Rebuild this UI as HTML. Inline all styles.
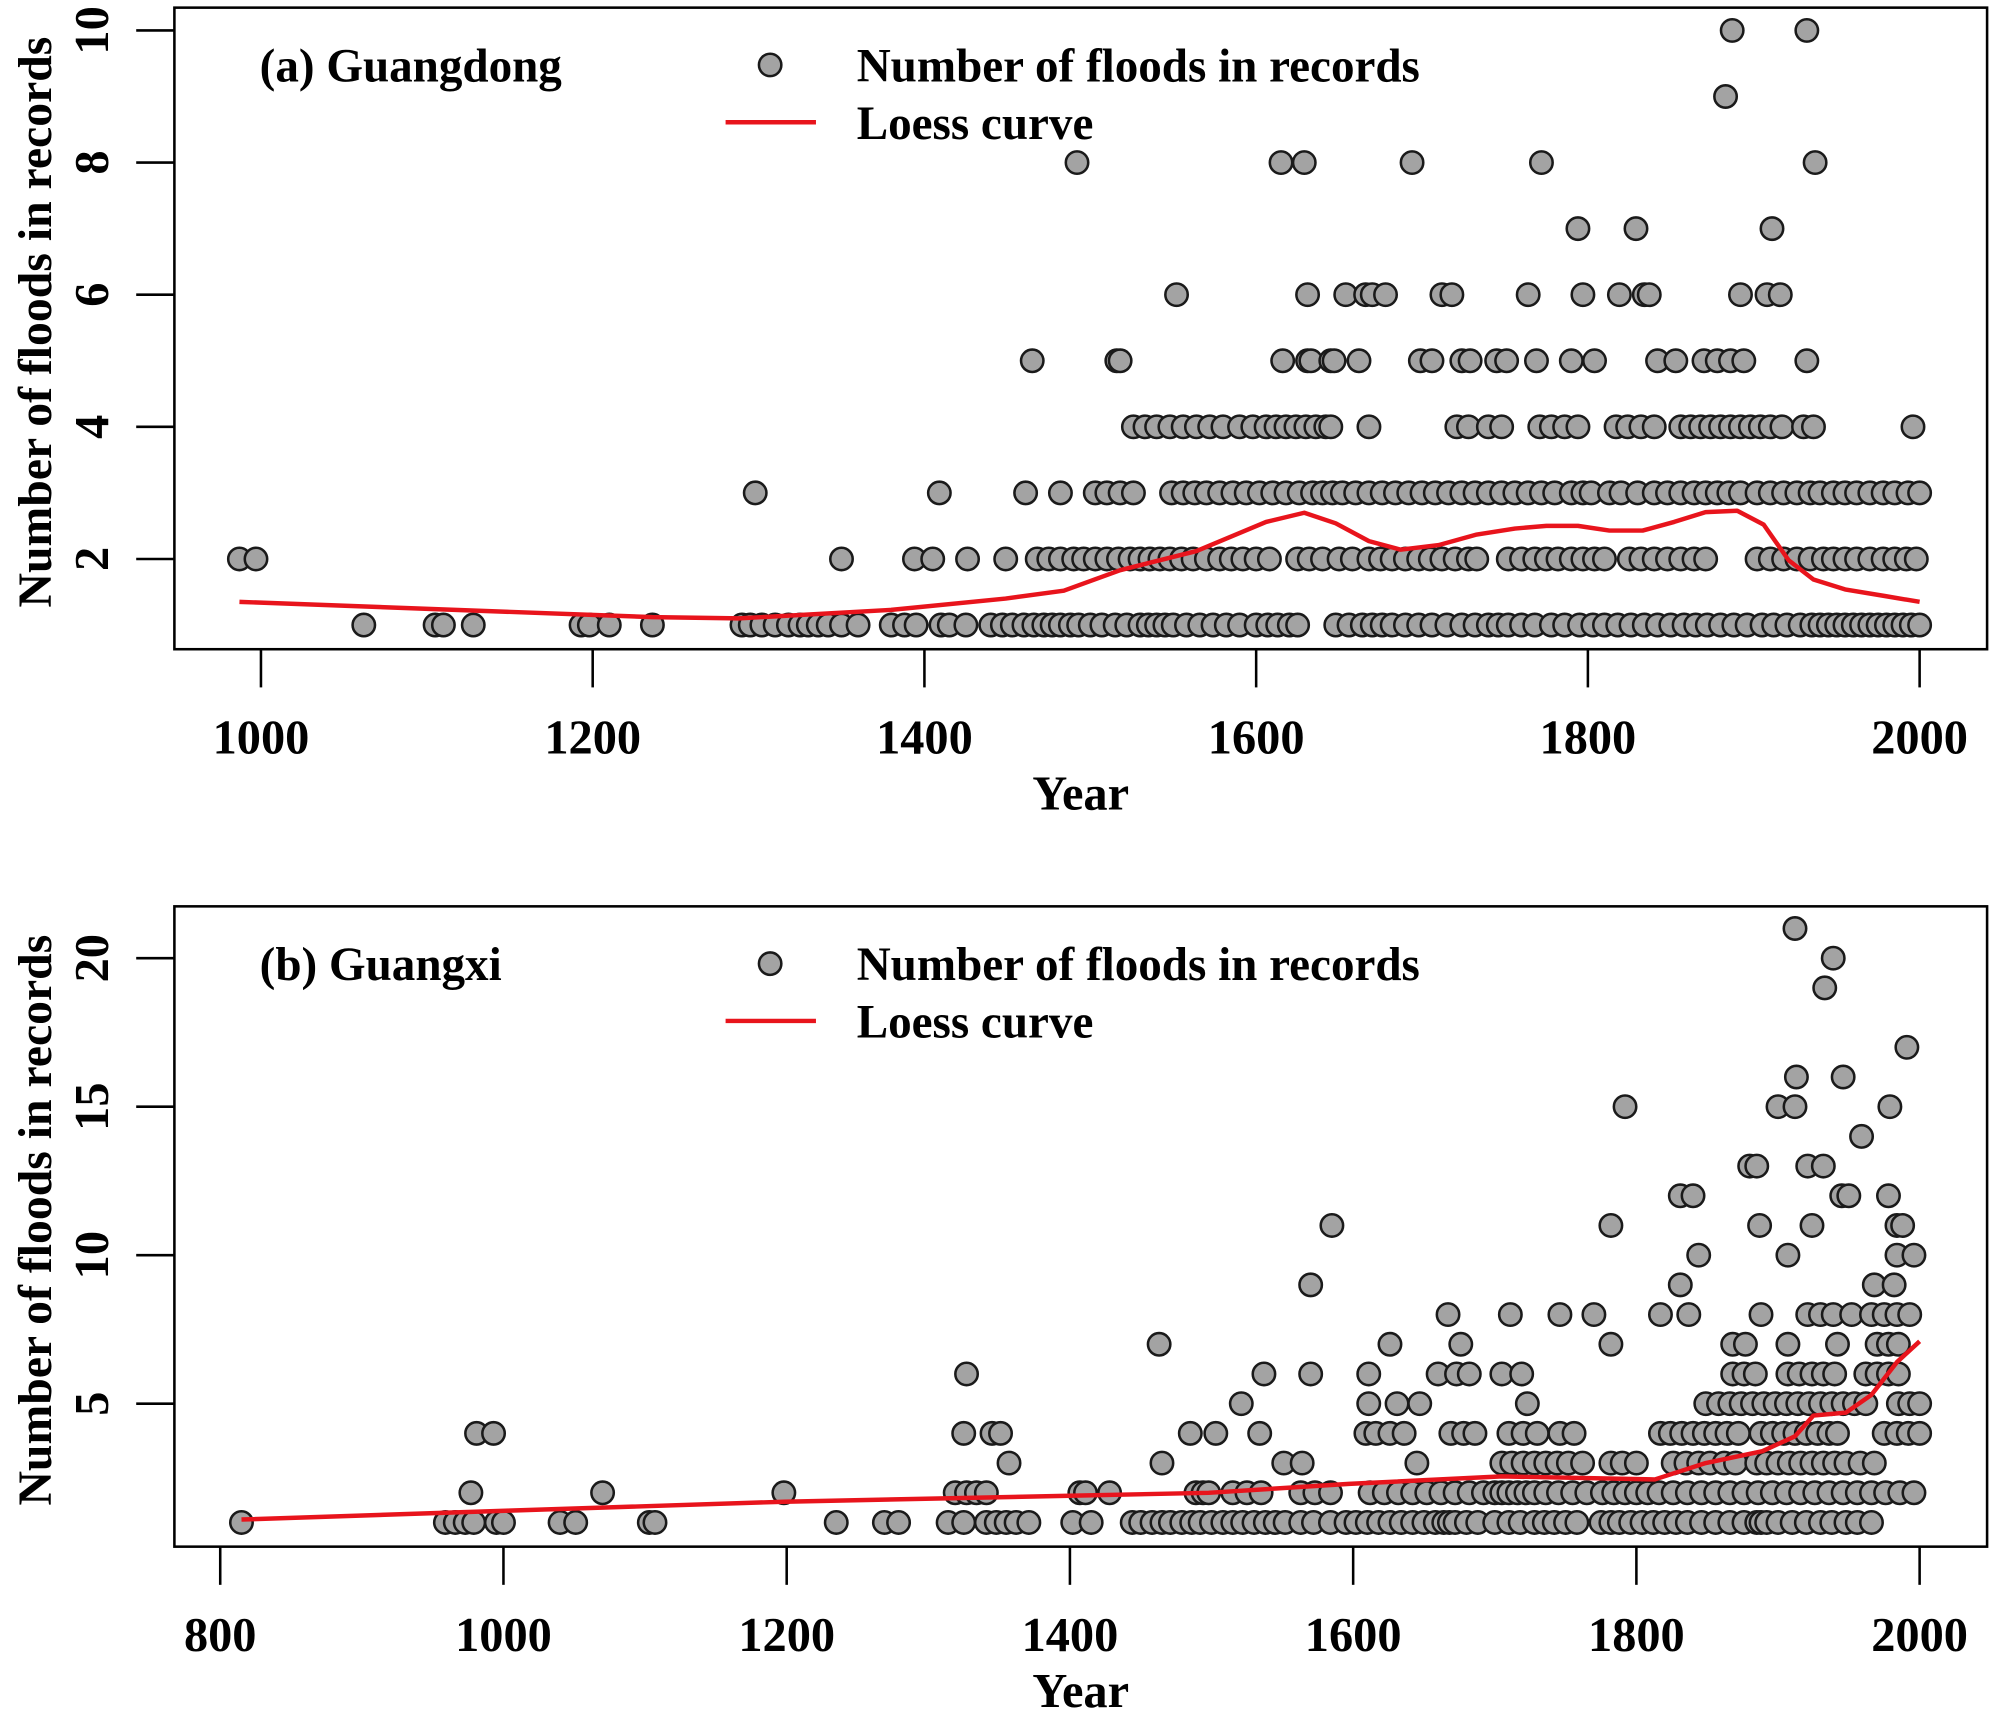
<!DOCTYPE html>
<html><head><meta charset="utf-8"><style>
html,body{margin:0;padding:0;background:#fff}
svg{display:block}
text{font-family:"Liberation Serif",serif;font-weight:bold;fill:#000}
</style></head>
<body>
<svg id="chart" width="1996" height="1718" viewBox="0 0 1568 1349.6" xmlns="http://www.w3.org/2000/svg"></svg>
<script>
// Panel (a) Guangdong: years grouped by flood count
const gd1=[1062,1105,1110,1128,1193,1198,1210,1236,1290,1295,1302,1310,1318,1325,1330,1336,1342,1350,1360,1380,1388,1395,1410,1415,1425,1440,1447,1453,1460,1466,1472,1477,1482,1488,1493,1500,1507,1515,1522,1530,1535,1540,1545,1550,1558,1566,1574,1582,1590,1600,1607,1613,1620,1625,1648,1656,1664,1670,1676,1682,1690,1698,1706,1715,1724,1732,1740,1746,1752,1760,1768,1778,1786,1795,1803,1810,1818,1826,1834,1842,1850,1858,1865,1872,1880,1888,1896,1905,1912,1920,1928,1935,1940,1945,1950,1955,1960,1965,1970,1975,1980,1985,1990,1995,2000];
const gd2=[987,997,1350,1394,1405,1426,1449,1468,1475,1482,1490,1496,1503,1510,1517,1524,1530,1536,1542,1548,1555,1562,1570,1578,1585,1592,1600,1608,1625,1632,1640,1650,1658,1668,1675,1682,1690,1698,1705,1712,1720,1728,1733,1752,1760,1768,1775,1782,1790,1797,1804,1810,1825,1832,1840,1848,1856,1864,1871,1902,1910,1918,1926,1934,1942,1948,1955,1962,1970,1978,1985,1992,1998];
const gd3=[1298,1409,1461,1482,1503,1510,1518,1526,1549,1556,1563,1570,1578,1586,1594,1602,1610,1618,1626,1634,1640,1646,1652,1660,1668,1676,1684,1692,1700,1708,1716,1724,1732,1740,1748,1756,1764,1772,1780,1790,1797,1802,1813,1820,1830,1840,1848,1856,1864,1871,1878,1885,1892,1902,1910,1918,1926,1934,1940,1948,1955,1962,1970,1978,1985,1993,2000];
const gd4=[1526,1533,1540,1548,1556,1564,1572,1580,1590,1598,1606,1612,1618,1624,1630,1636,1642,1645,1668,1721,1728,1740,1748,1771,1778,1786,1794,1817,1824,1832,1840,1856,1862,1868,1874,1880,1886,1892,1898,1904,1910,1917,1930,1936,1996];
const gd5=[1465,1516,1518,1616,1631,1633,1645,1647,1662,1699,1706,1724,1729,1745,1751,1769,1790,1804,1842,1853,1870,1878,1886,1894,1932];
const gd6=[1552,1631,1654,1666,1670,1678,1712,1718,1764,1797,1819,1834,1837,1892,1908,1916];
const gd7=[1794,1829,1911];
const gd8=[1492,1615,1629,1694,1772,1937];
const gd9=[1883];
const gd10=[1887,1932];
const gdLoessYear=[987,1236,1288,1380,1449,1484,1518,1564,1606,1629,1648,1668,1687,1710,1733,1756,1775,1794,1813,1833,1852,1871,1890,1906,1921,1936,1955,1979,2000];
const gdLoessVal=[1.35,1.12,1.1,1.23,1.4,1.52,1.83,2.12,2.56,2.7,2.54,2.27,2.14,2.21,2.37,2.46,2.5,2.5,2.43,2.43,2.56,2.71,2.73,2.52,1.98,1.69,1.54,1.44,1.35];
const gdXTicks=[1000,1200,1400,1600,1800,2000];
const gdYTicks=[2,4,6,8,10];

// Panel (b) Guangxi
const gx1=[815,959,966,973,979,995,1000,1040,1051,1103,1107,1235,1269,1279,1314,1325,1341,1348,1355,1362,1371,1402,1415,1444,1450,1458,1465,1471,1479,1486,1492,1500,1508,1515,1522,1530,1538,1545,1552,1563,1572,1584,1595,1602,1610,1618,1626,1634,1642,1650,1658,1664,1668,1672,1680,1688,1700,1710,1718,1728,1735,1742,1750,1758,1775,1782,1788,1796,1804,1812,1820,1828,1836,1846,1856,1866,1876,1885,1888,1892,1900,1910,1920,1930,1938,1948,1956,1966];
const gx2=[977,1070,1198,1319,1327,1334,1341,1407,1411,1428,1489,1494,1498,1515,1525,1535,1563,1573,1584,1612,1622,1632,1642,1652,1662,1672,1682,1692,1700,1705,1710,1716,1722,1728,1736,1745,1755,1765,1776,1784,1792,1800,1808,1816,1826,1836,1846,1856,1866,1876,1886,1896,1906,1916,1926,1936,1946,1956,1966,1976,1986,1996];
const gx3=[1357,1465,1551,1564,1645,1705,1712,1720,1728,1736,1744,1752,1762,1782,1790,1800,1826,1835,1844,1852,1862,1870,1885,1892,1900,1908,1916,1924,1932,1940,1948,1958,1968];
const gx4=[981,993,1325,1345,1351,1485,1503,1534,1609,1616,1626,1636,1669,1678,1686,1710,1720,1730,1746,1756,1817,1824,1832,1840,1848,1856,1864,1872,1888,1896,1904,1912,1920,1928,1936,1942,1975,1984,1992,2000];
const gx5=[1521,1611,1631,1647,1723,1849,1858,1866,1874,1882,1890,1898,1906,1914,1922,1930,1938,1946,1954,1962,1985,1993,2000];
const gx6=[1327,1537,1570,1611,1660,1673,1682,1705,1719,1868,1876,1884,1907,1915,1924,1932,1940,1962,1970,1978,1985];
const gx7=[1463,1626,1676,1782,1868,1877,1907,1942,1970,1978,1985];
const gx8=[1667,1711,1746,1770,1817,1837,1888,1921,1930,1939,1952,1966,1975,1984,1993];
const gx9=[1570,1831,1968,1982];
const gx10=[1844,1907,1984,1996];
const gx11=[1585,1782,1887,1924,1984,1988];
const gx12=[1831,1840,1945,1950,1978];
const gx13=[1880,1885,1921,1932];
const gx14=[1959];
const gx15=[1792,1900,1912,1979];
const gx16=[1913,1946];
const gx17=[1991];
const gx19=[1933];
const gx20=[1939];
const gx21=[1912];
const gxLoessYear=[815,1004,1198,1400,1498,1597,1705,1813,1849,1889,1912,1925,1948,1966,1984,2000];
const gxLoessVal=[1.1,1.4,1.7,1.9,2.0,2.3,2.55,2.45,3.0,3.4,3.9,4.6,4.7,5.3,6.4,7.1];
const gxXTicks=[800,1000,1200,1400,1600,1800,2000];
const gxYTicks=[5,10,15,20];

const NS="http://www.w3.org/2000/svg";
const svg=document.getElementById('chart');
function mk(tag,attrs,parent){const e=document.createElementNS(NS,tag);for(const k in attrs)e.setAttribute(k,attrs[k]);(parent||svg).appendChild(e);return e;}

function panel(cfg){
  const g=mk('g',{});
  
  
  const X=v=>cfg.x0+(v-cfg.xv0)*cfg.xs;
  const Y=v=>cfg.y0-(v-cfg.yv0)*cfg.ys;
  const box=mk('rect',{x:137,y:cfg.top,width:1424,height:cfg.bot-cfg.top,fill:'none',stroke:'#000','stroke-width':2},g);
  
  
  const pg=mk('g',{},g);
  
  
  cfg.levels.forEach(([val,years])=>{
    years.forEach(yr=>{
      const c=mk('circle',{cx:X(yr),cy:Y(val),r:8.8,fill:'#a3a3a3',stroke:'#1a1a1a','stroke-width':2},pg);
      
      
    });
  });
  const d=cfg.ly.map((yr,i)=>(i?'L':'M')+X(yr).toFixed(1)+' '+Y(cfg.lv[i]).toFixed(1)).join(' ');
  const lp=mk('path',{d:d,fill:'none',stroke:'#e8141c','stroke-width':3.5,'stroke-linejoin':'round'},g);
  
  
  cfg.xt.forEach(t=>{
    const l=mk('line',{x1:X(t),x2:X(t),y1:cfg.bot,y2:cfg.bot+30,stroke:'#000','stroke-width':2},g);
    
    
    const tx=mk('text',{x:X(t),y:cfg.bot+82,'text-anchor':'middle','font-size':38},g);
    tx.textContent=t;
    
    
  });
  cfg.yt.forEach(t=>{
    const l=mk('line',{x1:107,x2:137,y1:Y(t),y2:Y(t),stroke:'#000','stroke-width':2},g);
    
    
    const tx=mk('text',{x:0,y:0,'text-anchor':'middle','font-size':38,transform:`translate(85 ${Y(t)}) rotate(-90)`},g);
    tx.textContent=t;
    
    
  });
  const xt=mk('text',{x:849,y:cfg.bot+126,'text-anchor':'middle','font-size':38},g);
  xt.textContent='Year';
  
  
  const yt=mk('text',{x:0,y:0,'text-anchor':'middle','font-size':37.5,transform:`translate(40 ${(cfg.top+cfg.bot)/2-5}) rotate(-90)`},g);
  yt.textContent='Number of floods in records';
  
  
  const ti=mk('text',{x:204,y:cfg.top+58,'font-size':37},g);
  ti.textContent=cfg.title;
  
  
  const lg=mk('g',{},g);
  
  
  const lc=mk('circle',{cx:605,cy:cfg.top+45,r:8.8,fill:'#a3a3a3',stroke:'#1a1a1a','stroke-width':2},lg);
  
  
  const l1=mk('text',{x:673,y:cfg.top+58,'font-size':37},lg);
  l1.textContent='Number of floods in records';
  
  
  const ll=mk('line',{x1:570,x2:641,y1:cfg.top+90,y2:cfg.top+90,stroke:'#e8141c','stroke-width':3.5},lg);
  
  
  const l2=mk('text',{x:673,y:cfg.top+103,'font-size':37},lg);
  l2.textContent='Loess curve';
  
  
}

panel({name:'panel-a-guangdong',title:'(a) Guangdong',top:6,bot:510,
  x0:205,xv0:1000,xs:1.303,y0:491,yv0:1,ys:51.9,
  levels:[[1,gd1],[2,gd2],[3,gd3],[4,gd4],[5,gd5],[6,gd6],[7,gd7],[8,gd8],[9,gd9],[10,gd10]],
  ly:gdLoessYear,lv:gdLoessVal,xt:gdXTicks,yt:gdYTicks});
panel({name:'panel-b-guangxi',title:'(b) Guangxi',top:712,bot:1215,
  x0:173,xv0:800,xs:1.1125,y0:1196,yv0:1,ys:23.33,
  levels:[[1,gx1],[2,gx2],[3,gx3],[4,gx4],[5,gx5],[6,gx6],[7,gx7],[8,gx8],[9,gx9],[10,gx10],[11,gx11],[12,gx12],[13,gx13],[14,gx14],[15,gx15],[16,gx16],[17,gx17],[19,gx19],[20,gx20],[21,gx21]],
  ly:gxLoessYear,lv:gxLoessVal,xt:gxXTicks,yt:gxYTicks});
</script>
</body></html>
